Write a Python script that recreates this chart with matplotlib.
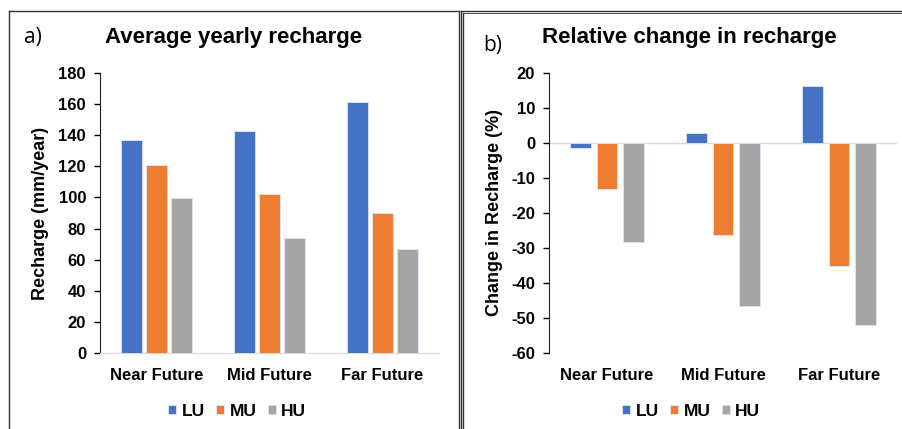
import numpy as np
import matplotlib
matplotlib.use('Agg')
import matplotlib.pyplot as plt
from matplotlib.lines import Line2D

plt.rcParams['font.family'] = ['Liberation Sans', 'DejaVu Sans']
plt.rcParams['axes.unicode_minus'] = False

# dati
periods = ['Near Future', 'Mid Future', 'Far Future']
scenarios = ['LU', 'MU', 'HU']
colors = ['#4472C4', '#ED7D31', '#A5A5A5']

recharge = {
    'LU': [137.0, 142.7, 161.5],
    'MU': [121.0, 102.4, 90.2],
    'HU': [99.6, 74.0, 66.6],
}
change = {
    'LU': [-1.4, 2.8, 16.3],
    'MU': [-13.0, -26.4, -35.1],
    'HU': [-28.3, -46.7, -52.1],
}

W, H = 903, 429
fig = plt.figure(figsize=(W / 100, H / 100), dpi=100)

def px(x0, y0, x1, y1):
    return [x0 / W, 1 - y1 / H, (x1 - x0) / W, (y1 - y0) / H]

# cornici dei pannelli
def fline(xs, ys, lw=1.0):
    fig.add_artist(Line2D([x / W for x in xs], [1 - y / H for y in ys],
                          color='#333333', lw=lw))

fline([9, 9], [11, 440])
fline([9, 459], [11, 11])
fline([459, 459], [11, 440])
fline([461, 461], [11, 440])
fline([463, 463], [13, 440])
fline([461, 903], [11, 11])
fline([463, 903], [13, 13], lw=0.6)

x = np.arange(len(periods))

def draw(ax, data, width, offset, leg_x):
    for i, s in enumerate(scenarios):
        ax.bar(x + (i - 1) * offset, data[s], width, color=colors[i],
               edgecolor='#DDE6F5', linewidth=0.6, zorder=3, label=s)
    ax.set_xlim(-0.5, 2.5)
    ax.set_xticks(x)
    ax.set_xticklabels(periods, fontsize=12, fontweight='bold')
    ax.tick_params(axis='x', length=0, pad=11)
    ax.tick_params(axis='y', direction='out', length=4, width=1,
                   labelsize=12, pad=6)
    for t in ax.get_yticklabels():
        t.set_fontweight('bold')
    for sp in ['top', 'right']:
        ax.spines[sp].set_visible(False)
    ax.spines['left'].set_color('#222222')
    ax.legend(ncol=3, loc='upper center', bbox_to_anchor=(leg_x, -0.125),
              frameon=False, handlelength=0.48, handleheight=0.48,
              handletextpad=0.3, columnspacing=0.65,
              prop={'weight': 'bold', 'size': 12.5})

# pannello a)
ax1 = fig.add_axes(px(100, 73, 439, 353))
draw(ax1, recharge, 0.18, 0.22, (237 - 100) / 339)
ax1.set_ylim(0, 180)
ax1.set_yticks(range(0, 181, 20))
ax1.spines['bottom'].set_color('#D9D9D9')
ax1.set_ylabel('Recharge (mm/year)', fontsize=13, fontweight='bold', labelpad=7)
fig.text(234 / W, 1 - 38 / H, 'Average yearly recharge', ha='center', va='center',
         fontsize=16, fontweight='bold')
fig.text(24 / W, 1 - 38 / H, 'a)', ha='left', va='center', fontsize=15,
         family='Open Sans')

# pannello b)
ax2 = fig.add_axes(px(549, 73, 897, 353))
draw(ax2, change, 0.18, 0.225, (691 - 549) / 348)
ax2.set_ylim(-60, 20)
ax2.set_yticks(range(-60, 21, 10))
ax2.spines['bottom'].set_visible(False)
ax2.axhline(0, color='#D9D9D9', lw=1, zorder=2)
ax2.set_ylabel('Change in Recharge (%)', fontsize=13, fontweight='bold', labelpad=6)
fig.text(689 / W, 1 - 38 / H, 'Relative change in recharge', ha='center', va='center',
         fontsize=16, fontweight='bold')
fig.text(483 / W, 1 - 45 / H, 'b)', ha='left', va='center', fontsize=15,
         family='Open Sans')

fig.savefig('out.png', dpi=100)
